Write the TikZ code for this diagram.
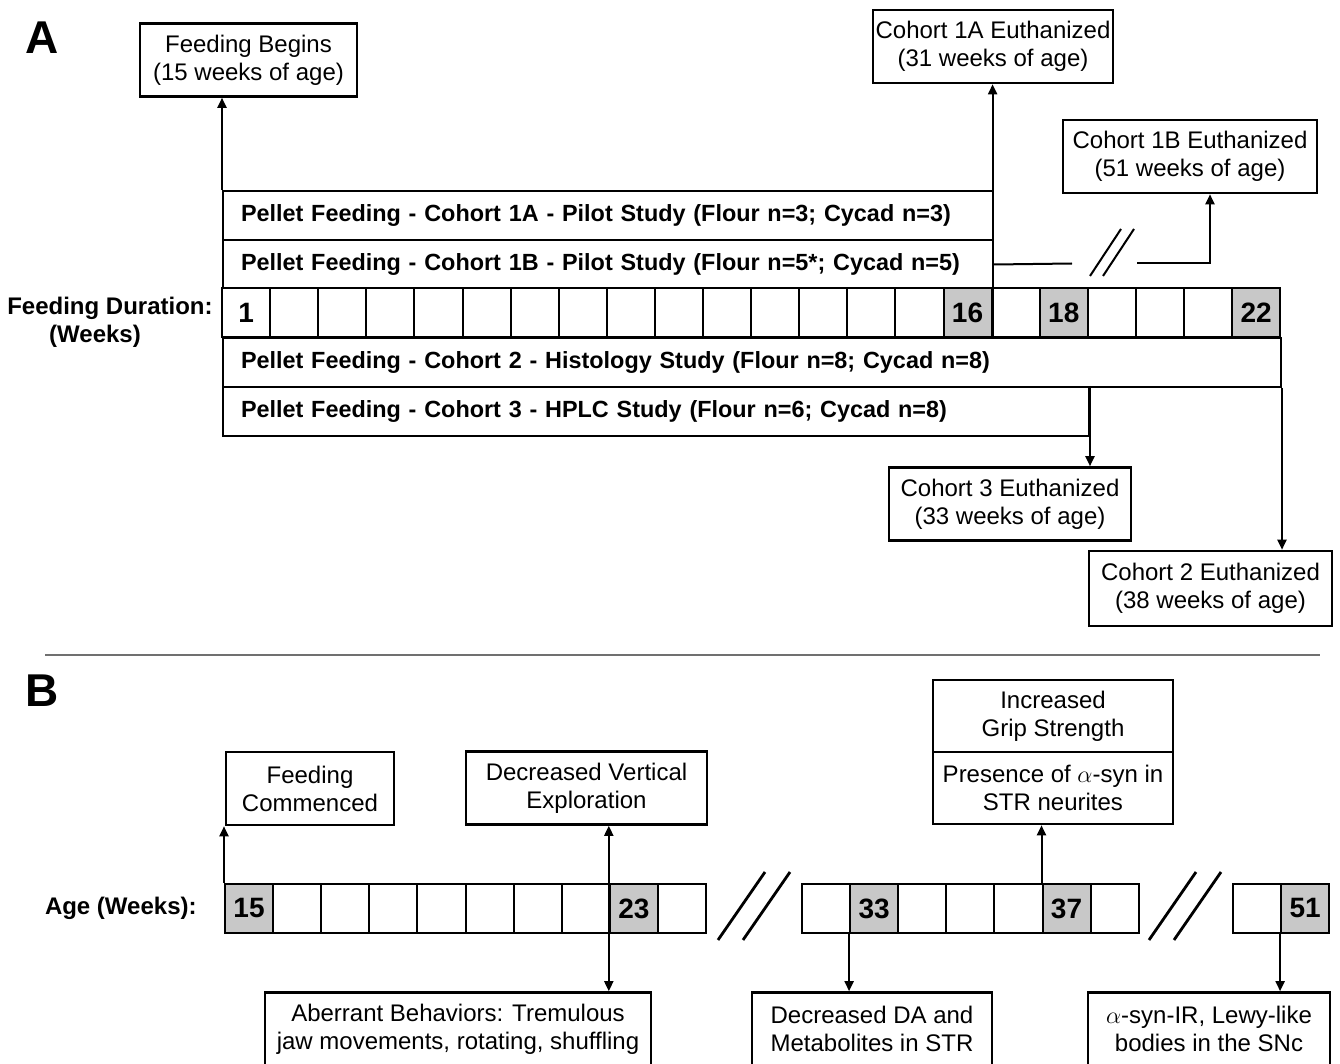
\documentclass[tikz,border=0pt]{standalone}
\usepackage{fontspec}
\setmainfont{Liberation Sans}
\usetikzlibrary{calc,positioning,arrows.meta}
\newlength{\weekstep}
\setlength{\weekstep}{24.05pt}
\definecolor{cellgray}{HTML}{C8C8C8}
\definecolor{rulegray}{HTML}{707070}
\tikzset{
  wk/.style={
    draw=black,
    line width=1pt,
    minimum width=\weekstep,
    minimum height=24.5pt,
    inner sep=0pt,
    font=\fontsize{14}{14}\selectfont\bfseries
  },
  feedrow/.style={draw=black, line width=1pt, minimum height=24.5pt, inner xsep=9pt, inner ysep=0pt,
    align=left, anchor=north west, font=\fontsize{11.7}{14}\selectfont\bfseries},
  evt/.style={draw=black, line width=1.3pt, minimum height=36.5pt, inner sep=0pt, align=center,
    font=\fontsize{12}{14}\selectfont},
  axlbl/.style={font=\fontsize{12}{14}\selectfont\bfseries, inner sep=0pt},
  panel/.style={font=\fontsize{23}{23}\selectfont\bfseries, inner sep=0pt},
  arr/.style={line width=1pt, -{Triangle[length=5pt,width=4.5pt]}},
  brkA/.style={line width=1pt},
  brkB/.style={line width=1.4pt},
}
\newcommand{\WeekRow}[4]{%
  \foreach \g/\c [count=\i] in {#4} {
    \node[wk, fill=\c] (#1\i) at ({#2+(\i-0.5)*48.1},#3) {\g};
  }
}

\begin{document}
\begin{tikzpicture}[x=0.5pt, y=-0.5pt]
  \useasboundingbox (0,0) rectangle (1340,1064);
  % panel A
  \node[panel] (labA) at (42,38) {A};
  \node[evt, minimum width=108.5pt] (begin) at (248.5,60) {Feeding Begins\\(15 weeks of age)};
  \node[evt, minimum width=120pt] (e1A) at (993,46.5) {Cohort 1A Euthanized\\(31 weeks of age)};
  \node[evt, minimum width=127pt] (e1B) at (1190,156.5) {Cohort 1B Euthanized\\(51 weeks of age)};
  \node[feedrow, text width=367pt] (r1A) at (222,190) {Pellet Feeding - Cohort 1A - Pilot Study (Flour n=3; Cycad n=3)};
  \node[feedrow, text width=367pt] (r1B) at (222,239) {Pellet Feeding - Cohort 1B - Pilot Study (Flour n=5*; Cycad n=5)};
  \WeekRow{w}{222}{312.5}{1/white,/white,/white,/white,/white,/white,/white,/white,/white,/white,/white,/white,/white,/white,/white,16/cellgray,/white,18/cellgray,/white,/white,/white,22/cellgray}
  \node[feedrow, text width=511pt] (r2) at (222,337) {Pellet Feeding - Cohort 2 - Histology Study (Flour n=8; Cycad n=8)};
  \node[feedrow, text width=415pt] (r3) at (222,386) {Pellet Feeding - Cohort 3 - HPLC Study (Flour n=6; Cycad n=8)};
  \node[axlbl, anchor=east] (durlbl) at (213,308) {Feeding Duration:};
  \node[axlbl] (durunit) at (95,336) {(Weeks)};
  \node[evt, minimum width=121pt] (e3) at (1010,504) {Cohort 3 Euthanized\\(33 weeks of age)};
  \node[evt, minimum width=121.5pt, minimum height=37.5pt] (e2) at (1210.5,588.5) {Cohort 2 Euthanized\\(38 weeks of age)};

  \draw[arr] (r1A.north west) -- (r1A.north west |- begin.south);
  \draw[arr] (w16.south east) -- (w16.south east |- e1A.south);
  \coordinate (brkL) at (1072,263.5);
  \coordinate (brkR) at (1137,263.5);
  \coordinate (up1B) at (1210,263.5);
  \draw[line width=1pt] (r1B.east) -- (brkL);
  \draw[arr] (brkR) -- (up1B) -- (up1B |- e1B.south);
  \foreach \s in {0,13} \draw[brkA] (1090+\s,276) -- ++(31,-47);
  \draw[arr] (r3.north east) -- (r3.north east |- e3.north);
  \draw[arr] (r2.south east) -- (r2.south east |- e2.north);

  \draw[rulegray, line width=1pt] (45,655) -- (1320,655);

  % panel B
  \node[panel] (labB) at (42,691) {B};
  \node[axlbl, anchor=east] (agelbl) at (197,908.5) {Age (Weeks):};
  \WeekRow{a}{225}{908.5}{15/cellgray,/white,/white,/white,/white,/white,/white,/white,23/cellgray,/white}
  \WeekRow{b}{802}{908.5}{/white,33/cellgray,/white,/white,/white,37/cellgray,/white}
  \WeekRow{c}{1233}{908.5}{/white,51/cellgray}
  \foreach \s in {0,25} \draw[brkB] (718+\s,940) -- ++(47,-68);
  \foreach \s in {0,25} \draw[brkB] (1149+\s,940) -- ++(47,-68);

  \node[evt, minimum width=84pt] (comm) at (310,788.5) {Feeding\\Commenced};
  \node[evt, minimum width=120.5pt] (vert) at (586.5,788) {Decreased Vertical\\Exploration};
  \node[evt, minimum width=120pt, minimum height=36pt] (grip) at (1053,716) {Increased\\Grip Strength};
  \node[evt, minimum width=120pt, minimum height=36pt] (asyn) at (1053,788) {Presence of $\alpha$-syn in\\STR neurites};
  \node[evt, minimum width=193pt] (aber) at (458,1029) {Aberrant Behaviors: Tremulous\\jaw movements, rotating, shuffling};
  \node[evt, minimum width=120pt] (dastr) at (872,1029) {Decreased DA and\\Metabolites in STR};
  \node[evt, minimum width=121pt] (lewy) at (1209,1029) {$\alpha$-syn-IR, Lewy-like\\bodies in the SNc};

  \draw[arr] (a1.north west) -- (a1.north west |- comm.south);
  \draw[arr, {Triangle[length=5pt,width=4.5pt]}-{Triangle[length=5pt,width=4.5pt]}] (a9.west |- vert.south) -- (a9.west |- aber.north);
  \draw[arr] (b6.north west) -- (b6.north west |- asyn.south);
  \draw[arr] (b2.south west) -- (b2.south west |- dastr.north);
  \draw[arr] (c2.south west) -- (c2.south west |- lewy.north);
\end{tikzpicture}
\end{document}
